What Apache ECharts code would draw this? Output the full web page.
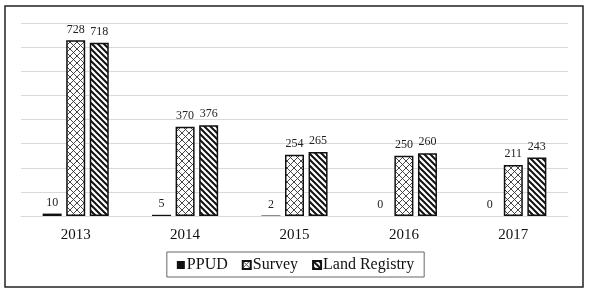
<!DOCTYPE html>
<html>
<head>
<meta charset="utf-8">
<script src="https://cdn.jsdelivr.net/npm/echarts@6/dist/echarts.min.js"></script>
<style>
  html, body { margin: 0; padding: 0; background: #fff; }
  #chart { width: 591px; height: 299px; }
</style>
</head>
<body>
<div id="chart"></div>
<script>
const years = ['2013', '2014', '2015', '2016', '2017']
const ppud = [10, 5, 2, 0, 0]
const survey = [728, 370, 254, 250, 211]
const landRegistry = [718, 376, 265, 260, 243]

// little canvas tiles used as fill patterns
function crossTile() {
  const c = document.createElement('canvas')
  c.width = 7
  c.height = 7
  const ctx = c.getContext('2d')
  ctx.fillStyle = '#fff'
  ctx.fillRect(0, 0, 7, 7)
  ctx.strokeStyle = '#333'
  ctx.lineWidth = 0.9
  ctx.beginPath()
  ctx.moveTo(0, 0); ctx.lineTo(7, 7)
  ctx.moveTo(7, 0); ctx.lineTo(0, 7)
  ctx.stroke()
  return c
}

function stripeTile() {
  const c = document.createElement('canvas')
  c.width = 6
  c.height = 6
  const ctx = c.getContext('2d')
  ctx.fillStyle = '#fff'
  ctx.fillRect(0, 0, 6, 6)
  ctx.strokeStyle = '#111'
  ctx.lineWidth = 2
  ctx.beginPath()
  ctx.moveTo(-3, 3); ctx.lineTo(3, 9)
  ctx.moveTo(0, 0); ctx.lineTo(6, 6)
  ctx.moveTo(3, -3); ctx.lineTo(9, 3)
  ctx.stroke()
  return c
}

const font = '"Liberation Serif", "Times New Roman", serif'
const chart = echarts.init(document.getElementById('chart'))

const labelStyle = {
  show: true,
  position: 'top',
  distance: 5,
  fontFamily: font,
  fontSize: 12,
  color: '#222'
}

chart.setOption({
  animation: false,
  graphic: [{
    type: 'rect',
    shape: { x: 5, y: 6, width: 578, height: 281 },
    style: { fill: 'none', stroke: '#222', lineWidth: 1.5 },
    silent: true
  }],
  grid: { left: 21, right: 23, top: 23, bottom: 83 },
  legend: {
    left: 'center',
    top: 252,
    padding: [5, 10, 4, 10],
    borderColor: '#666',
    borderWidth: 1,
    itemWidth: 8,
    itemHeight: 8,
    itemGap: 14,
    icon: 'rect',
    textStyle: { fontFamily: font, fontSize: 16, color: '#111', padding: [0, 0, 0, -3] },
    data: ['PPUD', 'Survey', 'Land Registry']
  },
  xAxis: {
    type: 'category',
    data: years,
    axisLine: { lineStyle: { color: '#d9d9d9' } },
    axisTick: { show: false },
    axisLabel: { fontFamily: font, fontSize: 15, color: '#111', margin: 12 }
  },
  yAxis: {
    type: 'value',
    min: 0,
    max: 800,
    interval: 100,
    axisLabel: { show: false },
    axisLine: { show: false },
    axisTick: { show: false },
    splitLine: { lineStyle: { color: '#d9d9d9' } }
  },
  series: [
    {
      name: 'PPUD',
      type: 'bar',
      data: ppud,
      barWidth: 19,
      barGap: '24%',
      itemStyle: { color: '#111' },
      label: labelStyle
    },
    {
      name: 'Survey',
      type: 'bar',
      data: survey,
      barWidth: 19,
      itemStyle: {
        color: { image: crossTile(), repeat: 'repeat' },
        borderColor: '#111',
        borderWidth: 1.5
      },
      label: labelStyle
    },
    {
      name: 'Land Registry',
      type: 'bar',
      data: landRegistry,
      barWidth: 19,
      itemStyle: {
        color: { image: stripeTile(), repeat: 'repeat' },
        borderColor: '#111',
        borderWidth: 1.5
      },
      label: labelStyle
    }
  ]
})
</script>
</body>
</html>
